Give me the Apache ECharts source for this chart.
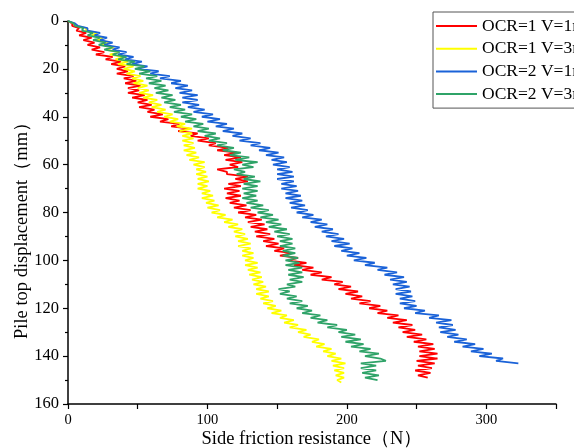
<!DOCTYPE html>
<html><head><meta charset="utf-8">
<script src="https://cdn.jsdelivr.net/npm/echarts@6/dist/echarts.min.js"></script>
<style>html,body{margin:0;padding:0;background:#fff}#c{width:574px;height:448px}</style>
</head><body><div id="c"></div>
<script>
const seriesNames = ['OCR=1 V=1mm/min','OCR=1 V=3mm/min','OCR=2 V=1mm/min','OCR=2 V=3mm/min'];
const seriesColors = ['#ff0000','#ffff00','#1a62d8','#2fa368'];
const yTicks = [0,20,40,60,80,100,120,140,160];
const xTicks = [0,100,200,300];
const displacement = [0,1,2,3,4,5,6,7,8,9,10,11,12,13,14,15,16,17,18,19,20,21,22,23,24,25,26,27,28,29,30,31,32,33,34,35,36,37,38,39,40,41,42,43,44,45,46,47,48,49,50,51,52,53,54,55,56,57,58,59,60,61,62,63,64,65,66,67,68,69,70,71,72,73,74,75,76,77,78,79,80,81,82,83,84,85,86,87,88,89,90,91,92,93,94,95,96,97,98,99,100,101,102,103,104,105,106,107,108,109,110,111,112,113,114,115,116,117,118,119,120,121,122,123,124,125,126,127,128,129,130,131,132,133,134,135,136,137,138,139,140,141,142,143,144,145,146,147,148,149,150,151];
const red = [0,3,3,8,6,13,8,17,11,19,14,23,17,26,20,32,27,38,31,41,35,43,35,47,40,49,41,52,43,51,43,55,46,57,50,60,51,62,57,68,59,72,66,80,74,87,79,93,88,101,93,106,101,115,107,121,112,124,113,125,116,122,107,114,114,129,120,129,115,124,112,123,114,124,113,123,116,128,119,131,122,135,127,139,129,141,131,143,134,145,135,148,140,151,142,155,148,161,152,165,158,171,162,176,168,182,174,189,182,197,191,203,194,208,199,211,203,217,209,224,216,229,222,237,229,243,233,247,237,249,240,254,243,257,248,262,251,263,252,265,252,265,250,263,251,261,249,260,251,258];
const yellow = [0,4,6,13,13,21,17,25,21,30,24,33,27,36,30,40,34,43,36,47,40,48,42,52,46,54,47,57,50,58,51,61,54,64,58,67,60,70,64,75,69,79,73,84,78,89,80,89,82,90,82,90,83,91,83,92,85,94,87,98,90,98,92,99,92,100,93,101,93,100,93,102,96,104,96,105,99,108,100,109,103,113,107,118,112,122,115,125,119,127,120,129,122,131,122,131,125,133,125,133,127,136,127,136,129,138,130,139,132,140,133,142,135,144,135,144,138,147,140,149,143,153,146,157,152,162,155,165,159,171,165,174,169,180,175,184,178,189,183,192,186,196,189,199,190,198,191,198,192,198,193,196];
const blue = [0,5,7,14,14,23,19,28,23,32,26,37,32,42,36,47,41,53,46,57,50,65,59,73,66,81,74,86,77,89,80,93,82,93,82,94,86,98,90,104,96,109,100,114,106,119,111,125,118,131,123,138,131,145,137,151,142,155,146,157,147,159,150,161,150,162,150,162,153,164,153,165,156,167,156,168,159,170,160,172,164,176,168,182,174,186,177,190,182,194,185,198,189,202,191,204,196,209,200,214,205,220,213,229,222,236,227,241,231,243,233,245,235,246,235,247,238,249,238,250,241,256,249,266,259,275,264,276,266,278,267,280,272,286,277,292,283,298,289,304,295,312,307,323];
const green = [0,4,5,11,10,18,14,23,18,27,22,32,26,37,32,42,36,48,42,55,48,59,51,64,56,67,58,70,62,72,63,75,67,77,69,81,73,84,76,89,81,92,84,97,90,101,93,106,98,109,101,114,107,119,111,124,116,130,120,136,125,133,119,127,121,134,126,138,126,136,125,136,126,135,125,136,128,140,131,144,136,147,138,151,142,153,144,157,148,159,150,161,152,161,152,163,154,163,154,165,156,166,156,168,158,168,158,169,159,168,157,163,151,159,152,164,157,168,159,172,164,175,168,181,174,186,179,193,186,200,194,206,196,210,199,212,203,217,209,223,213,224,228,210,221,210,221,211,223,213,222];

const dataSets = [red, yellow, blue, green];
const series = dataSets.map((arr, i) => ({
  name: seriesNames[i],
  type: 'line',
  data: arr.map((x, k) => [x, displacement[k]]),
  symbol: 'none',
  showSymbol: false,
  lineStyle: { color: seriesColors[i], width: 1.8 },
  itemStyle: { color: seriesColors[i] },
  animation: false
}));

const chart = echarts.init(document.getElementById('c'), null, { renderer: 'canvas' });
const serif = '"Liberation Serif","DejaVu Serif",serif';
chart.setOption({
  backgroundColor: '#fff',
  animation: false,
  grid: { left: 68, right: 18, top: 21, bottom: 44, containLabel: false, outerBoundsMode: 'none' },
  legend: {
    orient: 'vertical', left: 433, top: 12,
    padding: [5, 8, 5, 3], itemGap: 4.7, itemWidth: 41, itemHeight: 2,
    icon: 'rect',
    borderColor: '#555', borderWidth: 1, backgroundColor: '#fff',
    textStyle: { fontFamily: serif, fontSize: 17.5, lineHeight: 17, color: '#000' },
    data: seriesNames
  },
  xAxis: {
    type: 'value', min: 0, max: 350, interval: 50,
    name: 'Side friction resistance（N）', nameLocation: 'middle', nameGap: 26,
    nameMoveOverlap: false,
    nameTextStyle: { fontFamily: serif, fontSize: 18.5, color: '#000' },
    axisLine: { show: true, onZero: false, lineStyle: { color: '#000', width: 1.5 } },
    axisTick: { show: true, length: 5, lineStyle: { color: '#000', width: 1.2 } },
    splitLine: { show: false },
    axisLabel: { fontFamily: serif, fontSize: 14.5, color: '#000', margin: 9,
      formatter: v => xTicks.includes(v) ? String(v) : '' }
  },
  yAxis: {
    type: 'value', inverse: true, min: 0, max: 160, interval: 20,
    axisLine: { show: true, onZero: false, lineStyle: { color: '#000', width: 1.5 } },
    axisTick: { show: true, length: 5, lineStyle: { color: '#000', width: 1.2 } },
    minorTick: { show: true, splitNumber: 2, length: 3, lineStyle: { color: '#000', width: 1.2 } },
    splitLine: { show: false },
    axisLabel: { fontFamily: serif, fontSize: 16.5, color: '#000', margin: 9,
      formatter: v => yTicks.includes(v) ? String(v) : '' }
  },
  graphic: [{
    type: 'text', x: 22, y: 226, rotation: Math.PI / 2,
    style: { text: 'Pile top displacement（mm）', fontFamily: serif, fontSize: 18.5, fill: '#000',
      textAlign: 'center', textVerticalAlign: 'middle' }
  }],
  series: series
});
</script></body></html>
